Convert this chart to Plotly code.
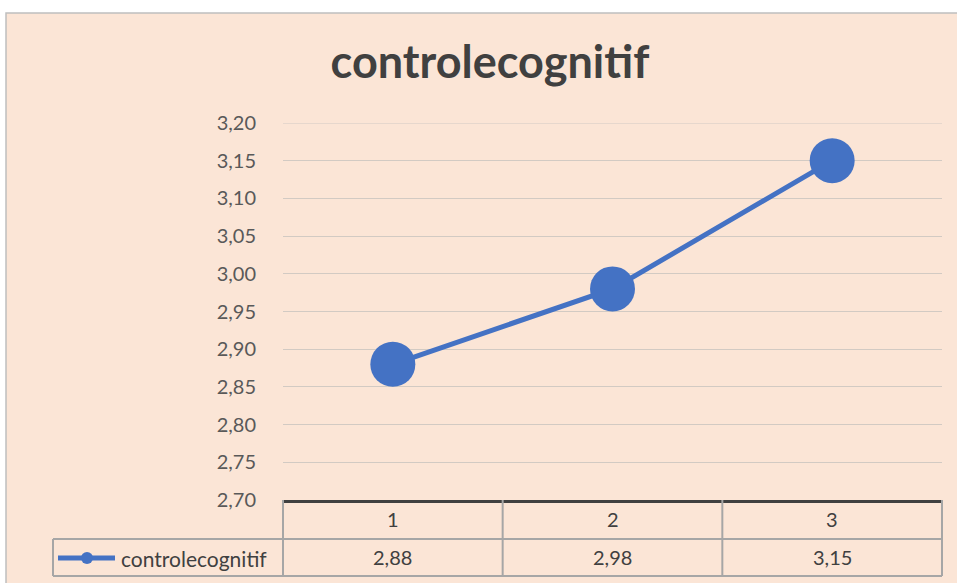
import plotly.graph_objects as go

# Series data
categories = ["1", "2", "3"]
values = [2.88, 2.98, 3.15]
series_name = "controlecognitif"
chart_title = "controlecognitif"

# Value axis ticks
y_ticks = [2.70, 2.75, 2.80, 2.85, 2.90, 2.95, 3.00, 3.05, 3.10, 3.15, 3.20]
y_tick_labels = ["2,70", "2,75", "2,80", "2,85", "2,90", "2,95", "3,00", "3,05", "3,10", "3,15", "3,20"]

# Canvas and plot-area geometry (pixels)
W, H = 957, 583
ML, MR, MT, MB = 283, 15, 123, 83
PW, PH = W - ML - MR, H - MT - MB

def px_x(px):
    return (px - ML) / PW

def px_y(py):
    return (H - MB - py) / PH

FONT = "Lato"
TEXT = "#404040"
PEACH = "#FBE5D6"
BLUE = "#4472C4"
GRID = "#D2CAC3"
TABLE_LINE = "#A6A6A6"

fig = go.Figure()
fig.add_trace(go.Scatter(
    x=categories, y=values, name=series_name,
    mode="lines+markers",
    line=dict(color=BLUE, width=5),
    marker=dict(color=BLUE, size=45),
    showlegend=False,
))

shapes = []
# chart area background with border
shapes.append(dict(type="rect", xref="paper", yref="paper",
                   x0=px_x(6), x1=px_x(990), y0=px_y(620), y1=px_y(13),
                   fillcolor=PEACH, line=dict(color="#BFBFBF", width=1.5),
                   layer="below"))
# gridline at the top of the value axis
shapes.append(dict(type="line", xref="paper", yref="y",
                   x0=0, x1=1, y0=y_ticks[-1], y1=y_ticks[-1],
                   line=dict(color=GRID, width=1), layer="below"))

# data table grid
n = len(categories)
row_mid = px_y(539)
row_bot = px_y(576)
for k in range(n + 1):
    shapes.append(dict(type="line", xref="paper", yref="paper",
                       x0=k / n, x1=k / n, y0=0, y1=row_bot,
                       line=dict(color=TABLE_LINE, width=2)))
for yy in (row_mid, row_bot):
    shapes.append(dict(type="line", xref="paper", yref="paper",
                       x0=px_x(53), x1=1, y0=yy, y1=yy,
                       line=dict(color=TABLE_LINE, width=2)))
shapes.append(dict(type="line", xref="paper", yref="paper",
                   x0=px_x(53), x1=px_x(53), y0=row_mid, y1=row_bot,
                   line=dict(color=TABLE_LINE, width=2)))

# legend key inside the table's series cell
key_y = px_y(558)
shapes.append(dict(type="line", xref="paper", yref="paper",
                   x0=px_x(58), x1=px_x(115), y0=key_y, y1=key_y,
                   line=dict(color=BLUE, width=5)))
shapes.append(dict(type="circle", xref="paper", yref="paper",
                   x0=px_x(81), x1=px_x(93), y0=px_y(564), y1=px_y(552),
                   fillcolor=BLUE, line=dict(color=BLUE, width=0)))

# data table cells: category header row, series name and value row
annotations = [dict(x=px_x(119), xref="paper", y=key_y, yref="paper",
                    xanchor="left", yanchor="middle", text=series_name,
                    showarrow=False,
                    font=dict(family=FONT, size=21, color=TEXT))]
for i, (c, v) in enumerate(zip(categories, values)):
    cx = (i + 0.5) / n
    annotations.append(dict(x=cx, xref="paper", y=px_y(519), yref="paper",
                            xanchor="center", yanchor="middle",
                            text=c, showarrow=False,
                            font=dict(family=FONT, size=20, color=TEXT)))
    annotations.append(dict(x=cx, xref="paper", y=px_y(557), yref="paper",
                            xanchor="center", yanchor="middle",
                            text=f"{v:.2f}".replace(".", ","), showarrow=False,
                            font=dict(family=FONT, size=20, color=TEXT)))

fig.update_layout(
    width=W, height=H, autosize=False,
    margin=dict(l=ML, r=MR, t=MT, b=MB),
    paper_bgcolor="white",
    plot_bgcolor="rgba(0,0,0,0)",
    showlegend=False,
    title=dict(text=f"<b>{chart_title}</b>", x=px_x(490), xref="paper",
               xanchor="center", y=1 - 62 / H, yanchor="middle",
               font=dict(family=FONT, size=45, color=TEXT)),
    xaxis=dict(type="category", range=[-0.5, n - 0.5],
               showticklabels=False, showgrid=False, zeroline=False,
               showline=True, linecolor="#404040", linewidth=2.5,
               ticks=""),
    yaxis=dict(range=[y_ticks[0], y_ticks[-1]],
               tickvals=y_ticks, ticktext=y_tick_labels,
               showgrid=True, gridcolor=GRID, gridwidth=1,
               zeroline=False, showline=False, ticks="",
               ticklabelstandoff=26,
               tickfont=dict(family=FONT, size=20, color="#595959")),
    shapes=shapes,
    annotations=annotations,
)

fig.write_html("out.html")
